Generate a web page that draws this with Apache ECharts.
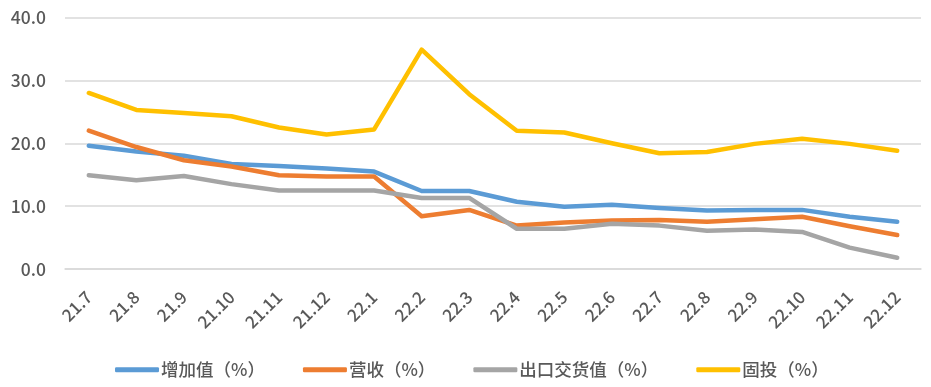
<!DOCTYPE html>
<html><head><meta charset="utf-8">
<script src="https://cdn.jsdelivr.net/npm/echarts@6/dist/echarts.min.js"></script>
<style>html,body{margin:0;padding:0;background:#fff}#c{width:931px;height:387px}</style>
</head><body><div id="c"></div>
<script>
const categories = ['21.7','21.8','21.9','21.10','21.11','21.12','22.1','22.2','22.3','22.4','22.5','22.6','22.7','22.8','22.9','22.10','22.11','22.12'];
const addedValue = [19.6,18.7,18.0,16.7,16.4,16.0,15.5,12.4,12.4,10.7,9.9,10.2,9.7,9.3,9.4,9.4,8.3,7.5];
const revenue = [22.0,19.4,17.3,16.3,14.9,14.7,14.7,8.4,9.4,6.9,7.4,7.7,7.8,7.5,7.9,8.3,6.8,5.4];
const exportValue = [14.9,14.1,14.8,13.5,12.5,12.5,12.5,11.3,11.3,6.4,6.4,7.2,6.9,6.1,6.3,5.9,3.4,1.8];
const fixedInvest = [28.0,25.3,24.8,24.3,22.5,21.4,22.2,34.9,27.8,22.0,21.7,20.0,18.4,18.6,19.9,20.7,19.9,18.8];
const seriesNames = ['增加值（%）','营收（%）','出口交货值（%）','固投（%）'];
const yTicks = [0,10,20,30,40];

const colors = ['#5B9BD5','#ED7D31','#A5A5A5','#FFC000'];
const font = '"Noto Sans CJK SC", sans-serif';
const chart = echarts.init(document.getElementById('c'), null, {renderer:'canvas'});
const mk = (name, data, i) => ({
  name, type:'line', data, showSymbol:false, symbol:'none', smooth:false,
  lineStyle:{width:4.5, color:colors[i], cap:'round', join:'round'},
  itemStyle:{color:colors[i]}
});
chart.setOption({
  animation:false,
  color: colors,
  grid:{left:65, right:10, top:17.5, bottom:118, containLabel:false},
  legend:{
    top:356, left:110, itemWidth:44, itemHeight:5, itemGap:38,
    icon:'roundRect',
    textStyle:{fontFamily:font, fontSize:17.5, fontWeight:500, color:'#595959', padding:[0,0,0,-3]},
    data: seriesNames
  },
  xAxis:{
    type:'category', data:categories, boundaryGap:true,
    axisLine:{show:true, lineStyle:{color:'#d9d9d9', width:1.5}},
    axisTick:{show:false},
    axisLabel:{rotate:45, fontFamily:font, fontSize:17, fontWeight:500, color:'#595959', margin:25, interval:0}
  },
  yAxis:{
    type:'value', min:yTicks[0], max:yTicks[yTicks.length-1], interval:10,
    axisLine:{show:false}, axisTick:{show:false},
    splitLine:{lineStyle:{color:'#d9d9d9', width:1.5}},
    axisLabel:{fontFamily:font, fontSize:17.5, fontWeight:500, color:'#595959', margin:19, formatter:v=>v.toFixed(1)}
  },
  series:[mk(seriesNames[0], addedValue,0), mk(seriesNames[1], revenue,1), mk(seriesNames[2], exportValue,2), mk(seriesNames[3], fixedInvest,3)]
});
</script></body></html>
